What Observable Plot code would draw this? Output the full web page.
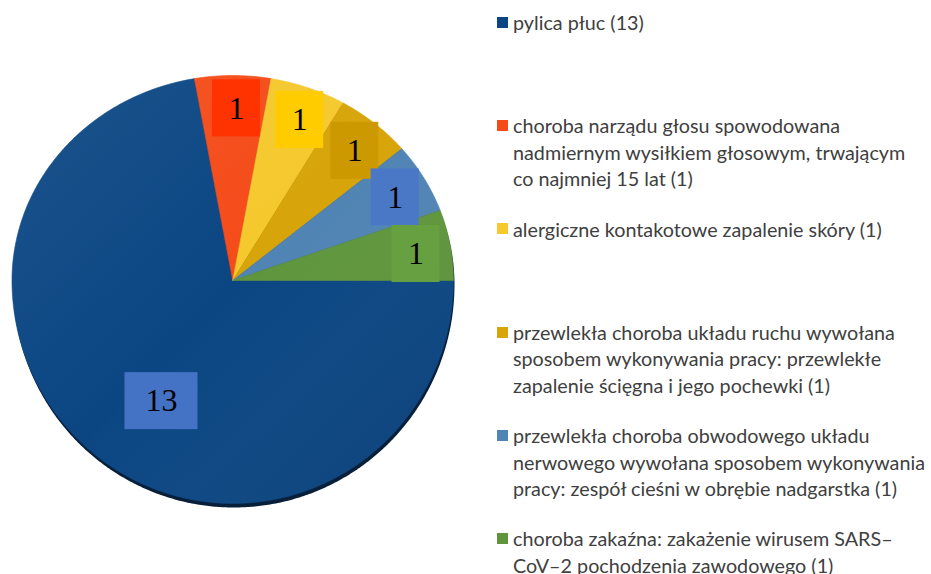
<!DOCTYPE html>
<html>
<head>
<meta charset="utf-8">
<script src="https://cdn.jsdelivr.net/npm/d3@7"></script>
<script src="https://cdn.jsdelivr.net/npm/@observablehq/plot@0.6"></script>
<style>
  html, body { margin: 0; padding: 0; background: #fff; }
  #wrap { position: relative; width: 931px; height: 574px; overflow: hidden; }
  #chart { position: absolute; left: 0; top: 0; }
  .item { position: absolute; left: 497px; color: #404040; font-family: Lato, "Open Sans", sans-serif; white-space: pre; }
  .sw { position: absolute; left: 0; width: 11px; height: 11px; }
  .tx { position: absolute; left: 16px; top: 0; }
</style>
</head>
<body>
<div id="wrap"><div id="chart"></div><div id="legend"></div></div>
<script>
// ---- data ----
const categories = [
  "pylica płuc",
  "choroba narządu głosu spowodowana\nnadmiernym wysiłkiem głosowym, trwającym\nco najmniej 15 lat",
  "alergiczne kontakotowe zapalenie skóry",
  "przewlekła choroba układu ruchu wywołana\nsposobem wykonywania pracy: przewlekłe\nzapalenie ścięgna i jego pochewki",
  "przewlekła choroba obwodowego układu\nnerwowego wywołana sposobem wykonywania\npracy: zespół cieśni w obrębie nadgarstka",
  "choroba zakaźna: zakażenie wirusem SARS–\nCoV–2 pochodzenia zawodowego"
];
const values = [13, 1, 1, 1, 1, 1];

// ---- styles ----
const sliceColors = ["#0b4683", "#f54b19", "#f5c82d", "#d7a50a", "#5084b4", "#5f963c"];
const boxColors   = ["#4472c4", "#ff3300", "#ffcc00", "#cc9900", "#4b78c6", "#66a040"];

// pie is drawn slightly taller below the centre than above it (as in the reference)
const yUp = 205, yDn = 223, lowK = yDn / yUp;
const fy = v => v < 0 ? v * lowK : v;

// ---- pie geometry from values ----
const arcs = d3.pie().sort(null).startAngle(Math.PI / 2).endAngle(Math.PI / 2 + 2 * Math.PI)(values);
const step = Math.PI / 360;
const slicePts = [];
arcs.forEach((a, i) => {
  slicePts.push({i, px: 0, py: 0});
  const n = Math.max(2, Math.ceil((a.endAngle - a.startAngle) / step));
  for (let k = 0; k <= n; k++) {
    const t = a.startAngle + (a.endAngle - a.startAngle) * k / n;
    slicePts.push({i, px: Math.sin(t), py: fy(Math.cos(t))});
  }
  slicePts.push({i, px: 0, py: 0});
});
const ring = d3.range(0, 721).map(k => {
  const t = k * Math.PI / 360;
  return {px: Math.sin(t), py: fy(Math.cos(t))};
});

// label positions: along slice mid-angle
const xR = (453 - 11.5) / 2;
const labels = arcs.map((a, i) => {
  const big = values[i] === d3.max(values);
  const mid = (a.startAngle + a.endAngle) / 2 + (big ? -0.16 : 0.02);
  const r = big ? 0.63 : 0.84;
  const x = Math.sin(mid) * r, y = fy(Math.cos(mid) * r);
  const w = big ? 73 : 48, h = 57;
  return {px: x, py: y, text: String(values[i]),
    x1: x - w / 2 / xR, x2: x + w / 2 / xR,
    y1: y - h / 2 / yUp, y2: y + h / 2 / yUp, box: boxColors[i]};
});

const svg = Plot.plot({
  width: 470, height: 574, margin: 0,
  x: {domain: [-1, 1], range: [11.5, 453], axis: null},
  y: {domain: [-lowK, 1], range: [503, 75], axis: null},
  marks: [
    Plot.line(ring, {x: "px", y: "py", fill: "#081f3a", stroke: "none", dy: 4, dx: 1}),
    ...arcs.map((a, i) => Plot.line(slicePts.filter(d => d.i === i), {x: "px", y: "py", fill: sliceColors[i], stroke: sliceColors[i], strokeWidth: 0.6})),
    Plot.line(ring, {x: "px", y: "py", fill: "url(#pieShade)", stroke: "none"}),
    ...labels.map(l => Plot.rect([l], {x1: "x1", x2: "x2", y1: "y1", y2: "y2", fill: l.box})),
    Plot.text(labels, {x: "px", y: "py", text: "text", fill: "black", fontFamily: "Liberation Serif", fontSize: 32})
  ]
});
const defs = d3.select(svg).insert("defs", ":first-child");
const g = defs.append("linearGradient").attr("id", "pieShade")
  .attr("x1", 0).attr("y1", 0).attr("x2", 1).attr("y2", 1);
g.append("stop").attr("offset", "0").attr("stop-color", "#fff").attr("stop-opacity", 0.07);
g.append("stop").attr("offset", "0.5").attr("stop-color", "#fff").attr("stop-opacity", 0);
g.append("stop").attr("offset", "1").attr("stop-color", "#000").attr("stop-opacity", 0.1);
document.getElementById("chart").appendChild(svg);

// ---- legend ----
const family = 'Lato, "Open Sans", sans-serif';
const ctx = document.createElement("canvas").getContext("2d");
ctx.font = `18px ${family}`;
const refW = ctx.measureText("nerwowego wywołana sposobem wykonywania").width;
const fs = 18 * 413 / refW;
const lh = 26.5, firstCenter = 22.5, gap = 103.2;
const legend = document.getElementById("legend");
categories.forEach((c, i) => {
  const item = document.createElement("div");
  item.className = "item";
  item.style.top = (firstCenter + gap * i - lh / 2) + "px";
  item.style.fontSize = fs + "px";
  item.style.lineHeight = lh + "px";
  const sw = document.createElement("div");
  sw.className = "sw";
  sw.style.background = sliceColors[i];
  sw.style.top = (lh / 2 - 5.5) + "px";
  const tx = document.createElement("div");
  tx.className = "tx";
  tx.textContent = `${c} (${values[i]})`;
  item.appendChild(sw); item.appendChild(tx);
  legend.appendChild(item);
});
</script>
</body>
</html>
